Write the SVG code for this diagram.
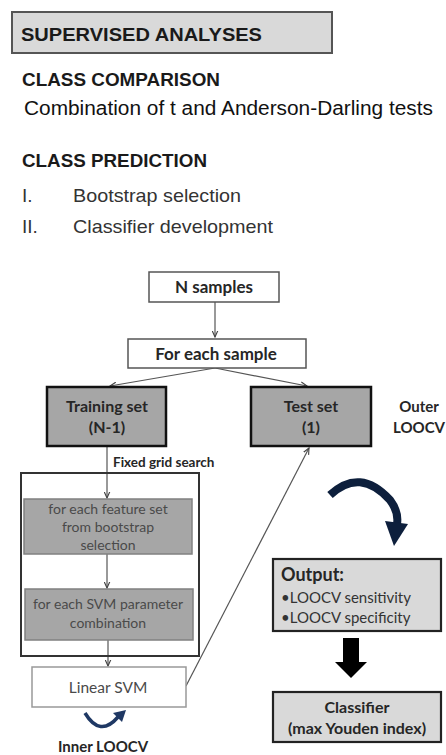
<svg xmlns="http://www.w3.org/2000/svg" width="446" height="755" viewBox="0 0 446 755">
<defs>
<style>
.h{font-family:"Liberation Sans",Arial,sans-serif;font-weight:bold;fill:#1a1a1a}
.r{font-family:"Liberation Sans",Arial,sans-serif;fill:#111}
.l{font-family:"Liberation Sans",Arial,sans-serif;fill:#333;font-size:19px}
.c{font-family:Lato,"Open Sans",sans-serif;text-anchor:middle}
.f{font-family:Lato,"Open Sans",sans-serif}
.b{font-weight:bold;fill:#262626}
.g{fill:#4a4a4a}
.ln{stroke:#555;stroke-width:1.2;fill:none}
.wbox{fill:#fff;stroke:#555;stroke-width:1.5}
.dbox{fill:#a6a6a6;stroke:#111;stroke-width:2.5}
.mbox{fill:#a6a6a6;stroke:#808080;stroke-width:1.5}
.lbox{fill:#d9d9d9;stroke:#222;stroke-width:2.2}
</style>
<marker id="ah" viewBox="0 0 10 10" refX="9" refY="5" markerWidth="7" markerHeight="7" orient="auto" markerUnits="userSpaceOnUse">
<path d="M0,1 L9,5 L0,9" fill="none" stroke="#444" stroke-width="1.6"/>
</marker>
</defs>

<g id="header">
<rect x="12" y="12" width="320" height="41" fill="#d9d9d9" stroke="#555" stroke-width="2"/>
<text class="h" x="21" y="41" font-size="18.5" textLength="241" lengthAdjust="spacingAndGlyphs">SUPERVISED ANALYSES</text>
</g>
<g id="class-comparison">
<text class="h" x="22" y="86" font-size="18.5" textLength="198" lengthAdjust="spacingAndGlyphs">CLASS COMPARISON</text>
<text class="r" x="24" y="115" font-size="20" textLength="409" lengthAdjust="spacingAndGlyphs">Combination of t and Anderson-Darling tests</text>
</g>
<g id="class-prediction">
<text class="h" x="22" y="167" font-size="18.5" textLength="185" lengthAdjust="spacingAndGlyphs">CLASS PREDICTION</text>
<text class="l" x="22" y="202">I.</text>
<text class="l" x="73" y="202" textLength="168" lengthAdjust="spacingAndGlyphs">Bootstrap selection</text>
<text class="l" x="22" y="233">II.</text>
<text class="l" x="73" y="233" textLength="200" lengthAdjust="spacingAndGlyphs">Classifier development</text>
</g>

<g id="connectors">
<line class="ln" x1="215" y1="302" x2="215" y2="337" marker-end="url(#ah)"/>
<line class="ln" x1="215" y1="368" x2="110" y2="386" marker-end="url(#ah)"/>
<line class="ln" x1="215" y1="368" x2="307" y2="386" marker-end="url(#ah)"/>
<line class="ln" x1="107" y1="447" x2="107" y2="498" marker-end="url(#ah)"/>
<line class="ln" x1="107" y1="554" x2="107" y2="588" marker-end="url(#ah)"/>
<line class="ln" x1="108" y1="640" x2="108" y2="666" marker-end="url(#ah)"/>
<line class="ln" x1="186" y1="686" x2="309" y2="448" marker-end="url(#ah)"/>
<path d="M330,495 Q360,467 390,500 Q399,512 397,524" fill="none" stroke="#0d1f3c" stroke-width="8"/>
<path d="M385,521 L408,524 L394,546 Z" fill="#0d1f3c"/>
<path d="M85,713 Q100,738 118,717" fill="none" stroke="#1f3864" stroke-width="3.5"/>
<path d="M113,713 L126,710 L122,722 Z" fill="#1f3864"/>
<path d="M343,638 H359 V662 H367 L351,678 L335,662 H343 Z" fill="#000"/>
</g>

<g id="n-samples">
<rect class="wbox" x="149" y="272" width="130" height="30"/>
<text class="c b" x="214" y="293" font-size="17">N samples</text>
</g>
<g id="for-each-sample">
<rect class="wbox" x="128" y="339" width="178" height="29"/>
<text class="c b" x="216" y="360" font-size="17">For each sample</text>
</g>
<g id="training-set">
<rect class="dbox" x="47" y="387" width="119" height="59"/>
<text class="c b" x="107" y="412" font-size="16">Training set</text>
<text class="c b" x="107" y="433" font-size="16">(N-1)</text>
</g>
<g id="test-set">
<rect class="dbox" x="251" y="387" width="120" height="59"/>
<text class="c b" x="311" y="412" font-size="16">Test set</text>
<text class="c b" x="311" y="433" font-size="16">(1)</text>
</g>
<g id="outer-loocv">
<text class="c b" x="419" y="412" font-size="15" fill="#333">Outer</text>
<text class="c b" x="419" y="433" font-size="15" fill="#333">LOOCV</text>
</g>
<g id="fixed-grid-search">
<text class="f b" x="113" y="467" font-size="13.5">Fixed grid search</text>
</g>
<g id="grid-frame">
<rect x="21" y="473" width="178" height="183" fill="none" stroke="#333" stroke-width="2"/>
</g>
<g id="feature-set">
<rect class="mbox" x="24" y="499" width="168" height="55"/>
<text class="c g" x="108" y="514" font-size="14">for each feature set</text>
<text class="c g" x="108" y="532" font-size="14">from bootstrap</text>
<text class="c g" x="108" y="550" font-size="14">selection</text>
</g>
<g id="svm-params">
<rect class="mbox" x="25" y="589" width="168" height="51"/>
<text class="c g" x="108" y="609" font-size="14">for each SVM parameter</text>
<text class="c g" x="108" y="628" font-size="14">combination</text>
</g>
<g id="linear-svm">
<rect x="32" y="667" width="154" height="40" fill="#fff" stroke="#999" stroke-width="1.5"/>
<text class="c g" x="108" y="693" font-size="15.5">Linear SVM</text>
</g>
<g id="inner-loocv">
<text class="c b" x="103" y="752" font-size="15">Inner LOOCV</text>
</g>
<g id="output">
<rect class="lbox" x="273" y="559" width="168" height="72"/>
<text class="f b" x="281" y="581" font-size="18">Output:</text>
<text class="f" x="281" y="603" font-size="15" fill="#333">•LOOCV sensitivity</text>
<text class="f" x="281" y="623" font-size="15" fill="#333">•LOOCV specificity</text>
</g>
<g id="classifier">
<rect class="lbox" x="273" y="692" width="168" height="50" stroke-width="2.5"/>
<text class="c b" x="357" y="713" font-size="16">Classifier</text>
<text class="c b" x="357" y="734" font-size="16">(max Youden index)</text>
</g>
</svg>
